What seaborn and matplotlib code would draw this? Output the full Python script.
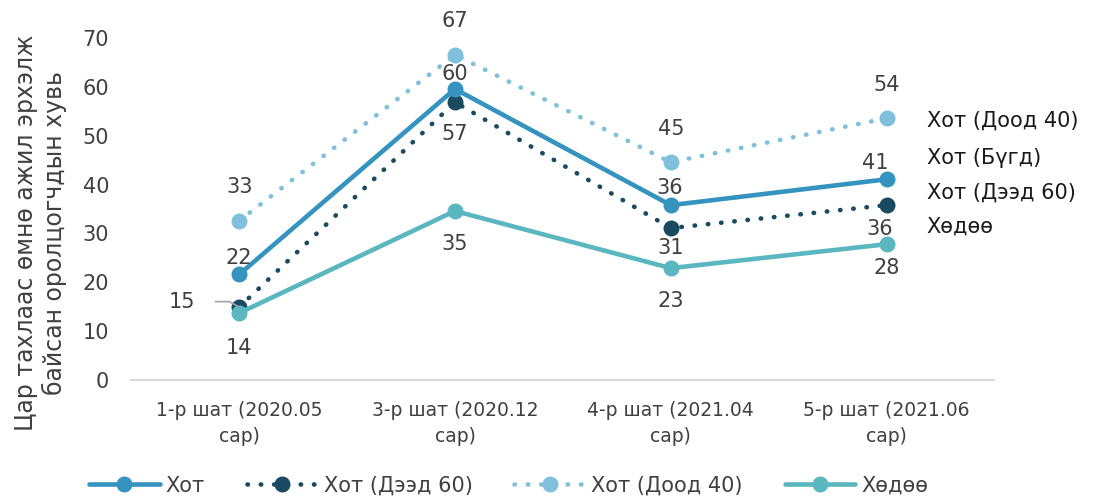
import matplotlib
matplotlib.use("Agg")
import matplotlib.pyplot as plt
import seaborn as sns
import pandas as pd
from matplotlib.lines import Line2D

# data
categories = ["1-р шат (2020.05\nсар)", "3-р шат (2020.12\nсар)",
              "4-р шат (2021.04\nсар)", "5-р шат (2021.06\nсар)"]
hot = [21.6, 59.6, 35.8, 41.1]
hot_deed60 = [14.9, 56.9, 31.1, 35.8]
hot_dood40 = [32.6, 66.6, 44.6, 53.6]
khuduu = [13.7, 34.6, 22.9, 27.8]
series_names = ["Хот", "Хот (Дээд 60)", "Хот (Доод 40)", "Хөдөө"]
side_labels = ["Хот (Доод 40)", "Хот (Бүгд)", "Хот (Дээд 60)", "Хөдөө"]

sns.set_style("white")
plt.rcParams['font.family'] = ['DejaVu Sans']

colors = {"Хот": "#3594BF", "Хот (Дээд 60)": "#1A4A60",
          "Хот (Доод 40)": "#80C0DC", "Хөдөө": "#5BB7BF"}
dotted = (0, (0.1, 2.8))
styles = {"Хот": "-", "Хот (Дээд 60)": dotted, "Хот (Доод 40)": dotted, "Хөдөө": "-"}
txt = "#404040"

fig = plt.figure(figsize=(10.94, 4.96), dpi=100)
ax = fig.add_axes([0.12, 0.234, 0.789, 0.689])

values = {"Хот": hot, "Хот (Дээд 60)": hot_deed60, "Хот (Доод 40)": hot_dood40, "Хөдөө": khuduu}
# draw order: light, dark, main, rural
for name in ["Хот (Доод 40)", "Хот (Дээд 60)", "Хот", "Хөдөө"]:
    df = pd.DataFrame({"x": categories, "y": values[name]})
    sns.lineplot(data=df, x="x", y="y", ax=ax, sort=False, color=colors[name],
                 linewidth=3.3, linestyle=styles[name], marker="o", markersize=11.5,
                 markeredgewidth=0, dash_capstyle="round", clip_on=False)

ax.set_ylim(0, 70)
ax.set_xlim(-0.5, 3.5)
ax.set_yticks(range(0, 71, 10))
ax.set_ylabel("Цар тахлаас өмнө ажил эрхэлж\nбайсан оролцогчдын хувь",
              fontsize=17, color=txt, linespacing=1.2)
ax.yaxis.set_label_coords(-0.074, 0.43)
ax.set_xlabel("")
ax.tick_params(axis="y", labelsize=15, labelcolor=txt, length=0, pad=16)
ax.tick_params(axis="x", labelsize=13.5, labelcolor=txt, length=0, pad=15)
for lab in ax.get_xticklabels():
    lab.set_linespacing(1.45)
for s in ["top", "right", "left"]:
    ax.spines[s].set_visible(False)
ax.spines["bottom"].set_color("#d9d9d9")
ax.spines["bottom"].set_linewidth(1.5)

# value labels
def put(xi, v, dy, dx=0):
    ax.annotate(f"{v:.0f}", (xi, v), xytext=(dx, dy), textcoords="offset points",
                ha="center", va="center", fontsize=15, color=txt, annotation_clip=False)

for i, v in enumerate(hot):
    put(i, v, [12, 11, 12, 12][i], [0, 0, -1, -8][i])
for i, v in enumerate(hot_dood40):
    put(i, v, 24)
for i, v in enumerate(khuduu):
    put(i, v, [-25, -24, -24, -17][i])
for i, v in enumerate(hot_deed60):
    if i == 0:
        ax.annotate(f"{v:.0f}", (i, v), xytext=(-41, 4), textcoords="offset points",
                    ha="center", va="center", fontsize=15, color=txt,
                    arrowprops=dict(arrowstyle="-", color="#a6a6a6", lw=1.2,
                                    connectionstyle="angle,angleA=0,angleB=150,rad=0",
                                    shrinkA=12, shrinkB=1))
    else:
        put(i, v, [0, -23, -14, -17][i], [0, 0, 0, -5][i])

# labels on the right side
for k, lab in enumerate(side_labels):
    fig.text(0.847, [0.756, 0.681, 0.611, 0.544][k], lab, fontsize=15,
             color="#1a1a1a", va="center")

handles = [Line2D([0], [0], color=colors[n], linewidth=3.3, linestyle=styles[n],
                  marker="o", markersize=11.5, markeredgewidth=0, dash_capstyle="round")
           for n in series_names]
fig.legend(handles, series_names, loc="lower center", bbox_to_anchor=(0.465, -0.037),
           ncol=4, frameon=False, fontsize=15, handlelength=3.4, columnspacing=2.0,
           handletextpad=0.3, labelcolor=txt)

fig.savefig("out.png", dpi=100)
